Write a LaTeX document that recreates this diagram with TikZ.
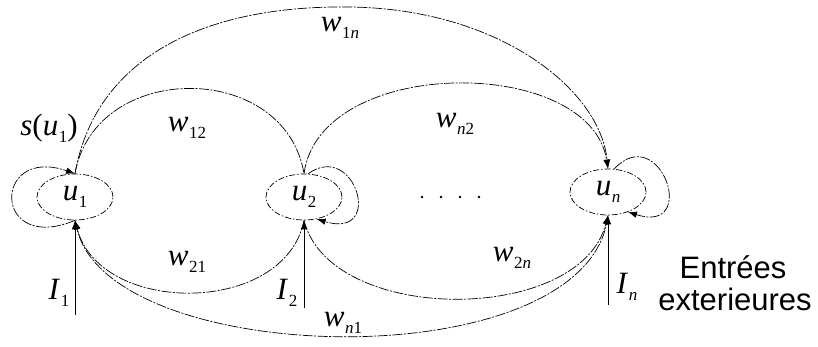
\documentclass[tikz,border=0pt]{standalone}
\usepackage{fontspec}
\setmainfont{Liberation Serif}
\newfontfamily\labsans{Liberation Sans}
\usetikzlibrary{arrows.meta,shapes.geometric}
\newcommand\lsub[2]{\textit{#1}\kern0.5pt\raisebox{-7pt}{\fontsize{17}{17}\selectfont #2}}
\begin{document}
\begin{tikzpicture}[x=1pt,y=-1pt,
  lab/.style={font=\fontsize{31}{31}\selectfont, inner sep=0pt},
  neuron/.style={ellipse, draw, minimum width=76pt, minimum height=46pt, inner sep=0pt,
    line width=0.7pt, dash pattern=on 6pt off 2pt on 1.5pt off 2pt},
  conn/.style={line width=0.7pt, dash pattern=on 10pt off 1.5pt on 2pt off 1.5pt},
  tip/.style={-{Latex[length=9pt,width=6.5pt]}},
  inp/.style={line width=0.8pt},
  ext/.style={font=\labsans\fontsize{31}{31}\selectfont, inner sep=0pt, anchor=base}]
\useasboundingbox (0,0) rectangle (818,347);

% neurons
\node[neuron,lab] (u1) at (75,197) {\lsub{u}{1}};
\node[neuron,lab] (u2) at (304,197) {\lsub{u}{2}};
\node[neuron,lab] (un) at (608,192) {\lsub{u}{\textit{n}}};

% dots
\fill (422,197) circle (1.4pt);
\fill (441,197) circle (1.4pt);
\fill (460,197) circle (1.4pt);
\fill (479,197) circle (1.4pt);

% upper connections
\draw[conn,tip] (u1.north) .. controls (95,60) and (200,5) .. (350,7)
   .. controls (500,9) and (600,90) .. (un.north);
\draw[conn] (u1.north) .. controls (95,60) and (285,60) .. (u2.north);
\draw[conn,tip] (u2.north) .. controls (320,55) and (590,55) .. (un.north);

% lower connections
\draw[conn,tip] (u2.south) .. controls (285,316) and (100,316) .. (u1.south);
\draw[conn,tip] (u2.south) .. controls (330,325) and (580,325) .. (un.south);
\draw[conn,tip] (un.south) .. controls (590,380) and (110,370) .. (u1.south);

% self loops
\draw[conn,tip] (u1.south) .. controls (-8,255) and (-8,145) .. (u1.north);
\draw[conn,tip] (u2.80) .. controls (355,140) and (385,240) .. (u2.-60);
\draw[conn,tip] (un.75) .. controls (660,120) and (700,235) .. (un.-45);

% external inputs
\coordinate (i1) at (75,315);
\coordinate (i2) at (304,308);
\coordinate (in) at (608,305);
\draw[inp,tip] (i1) -- (u1.south);
\draw[inp,tip] (i2) -- (u2.south);
\draw[inp,tip] (in) -- (un.south);

% labels
\node[lab] (s1) at (49,128) {\textit{s}(\lsub{u}{1})};
\node[lab] (l1n) at (340,28) {\lsub{w}{1\textit{n}}};
\node[lab] (l12) at (187,128) {\lsub{w}{12}};
\node[lab] (ln2) at (455,124) {\lsub{w}{\textit{n}2}};
\node[lab] (l21) at (187,262) {\lsub{w}{21}};
\node[lab] (l2n) at (512,258) {\lsub{w}{2\textit{n}}};
\node[lab] (ln1) at (343,323) {\lsub{w}{\textit{n}1}};
\node[lab] (I1) at (59,293) {\lsub{I}{1}};
\node[lab] (I2) at (287,293) {\lsub{I}{2}};
\node[lab] (In) at (627,287) {\lsub{I}{\textit{n}}};
\node[ext] (e1) at (733,278) {Entrées};
\node[ext] (e2) at (735,310) {exterieures};
\end{tikzpicture}
\end{document}
